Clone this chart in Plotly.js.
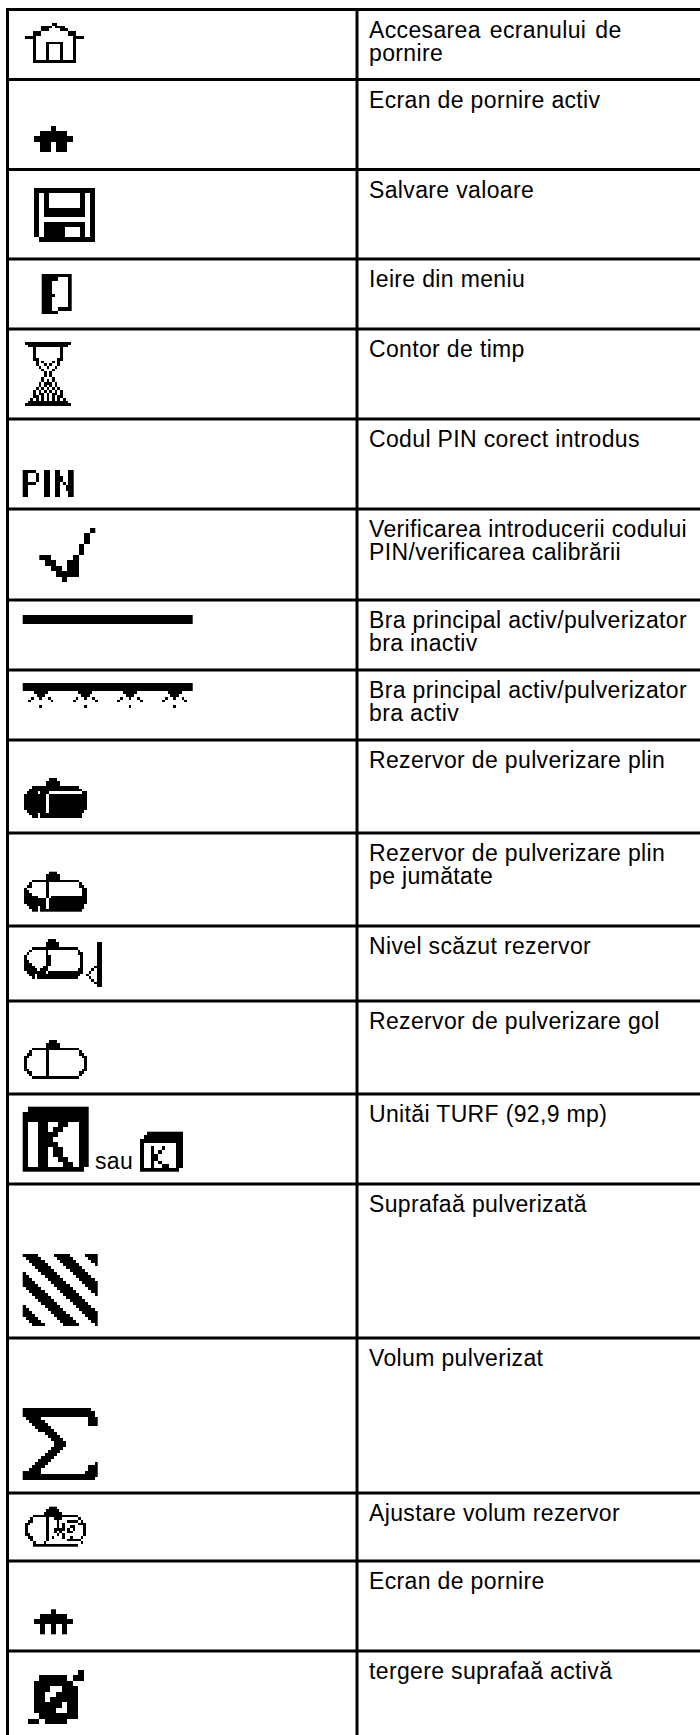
<!DOCTYPE html>
<html><head><meta charset="utf-8">
<script src="https://cdn.plot.ly/plotly-3.0.1.min.js"></script>
<style>html,body{margin:0;padding:0;background:#fff}#c{width:700px;height:1735px}#c text{letter-spacing:.35px}</style>
</head><body><div id="c"></div>
<script>
// ---- table data ----
const rowEdges=[9.5,79.5,169.5,259,329,419,509,600,670,740,833,926,1001,1094,1184,1338,1493,1561,1651];
const columnEdges=[7.5,357];
const descriptions=[
["Accesarea\u200A ecranului\u200A de","pornire"],["Ecran de pornire activ"],["Salvare valoare"],["Ieire din meniu"],["Contor de timp"],
["Codul PIN corect introdus"],["Verificarea introducerii codului","PIN/verificarea calibrării"],
["Bra principal activ/pulverizator","bra inactiv"],["Bra principal activ/pulverizator","bra activ"],
["Rezervor de pulverizare plin"],["Rezervor de pulverizare plin","pe jumătate"],["Nivel scăzut rezervor"],
["Rezervor de pulverizare gol"],["Unităi TURF (92,9 mp)"],["Suprafaă pulverizată"],["Volum pulverizat"],
["Ajustare volum rezervor"],["Ecran de pornire"],["tergere suprafaă activă"]];
// ---- icon bitmaps ----
const home=["..........##..........","......####.####.......","......###....###......","...###..........###...","...###..........###...","####..............####","...#..............#...","...#....######....#...","...#....#....#....#...","...#....#....#....#...","...#....#....#....#...","...#....#....#....#...","...#....#....#....#...","...#....#....#....#...","...################..."];
const homeActive=["...#...",".#####.","#######",".##.##.",".##.##."];
const save=["############","#.#......#.#","#.#......#.#","#.#......#.#","#.########.#","#.########.#","#..........#","#.########.#","#.####...#.#","#.####...#.#",".###########"];
const exitDoor=["#########","#####...#","###.....#","###.....#","###.....#","###.....#","####....#","###.....#","###.....#","###.....#","###..####","#####...."];
const hourglass=["#################",".###############.","...#.........#...","...#.........#...","...#.........#...","...#.........#...","...##.......##...","....#.#...#.#....","....#..#.#..#....",".....#..#..#.....","......#...#......",".......#.#.......",".......#.#.......","......#...#......","......#.#.#......",".....#.###.#.....",".....#.#.#.#.....","....#.#.#.#.#....","...#.#.#.#.#.#...","...#.##.#.##.#...","...##.#.#.#.##...","..#.#.#.#.#.#.#..",".###############.","#################"];
const pin=["#####...##..##...##","##...#..##..##...##","##...#..##..###..##","##...#..##..###..##","#####...##..##.#.##","##......##..##..###","##......##..##..###","##......##..##...##","##......##..##...##"];
const check=[".........#","........#.","........#.",".......#..",".......#..","##....#...",".##..##...","..##.##...","...####...","....#....."];
const boomOff=["#"];
const boomTile=["################","################","################","....#####.......",".....###........","...#..#..#......","..#.......#.....","................","......#........."];
const tankFull=[".........###...........","........#####..........","........#####..........","...#################...","..###################..",".####.###............##","########.##############","########.##############","########.##############","########.##############","########.##############","########.##############",".#######.#############.","..###.###############..","...##.###############.."];
const tankHalf=[".........###...........","........#####..........","........#####..........","...#################...","..#.....#...........#..",".##.....#...........##.","#.......#............##","##......#............##","###.....#............##","#####...#.#############","########.##############","########.##############",".#######.#############.","..###.##.#############.","...##.###############.."];
const tankLow=[".........###.................","........#####..............##","........#####..............##","...#################.......##","..#.....#...........#......##",".#......#...........##.....##","#.......##...........#.....##","#.......##...........#.....##","##......##...........#.....##","###.....##...........#.....##","####...##............#....###","#####.###...........##...#.##",".#######.#############..#..##","..##.################..#...##","...#.###############....#..##",".........................#.##","..........................###","...........................##"];
const tankEmpty=[".........###...........","........#####..........","........#####..........","...#################...","..#.....#...........#..",".##.....#...........##.","##......#............##","#.......#.............#","#.......#.............#","#.......#.............#","#.......#.............#","##......#............##",".##.....#...........##.","..#.....#...........#..","...#################..."];
const kLarge=[".############","#############","#############","#..##..##..##","#..##.##...##","#..####....##","#..###.....##","#..####....##","#..##.##...##","#..##.##...##","#..##..##..##","#..##...##.##","############."];
const kSmall=["..##########",".###########","############","#.........##","#..#..#...##","#..#.#....##","#..##.....##","#..##.....##","#..#.#....##","#..#..##..##","###########."];
const hatch=["#####.....#####.....####",".#####.....#####.....###","..#####.....#####.....##","...#####.....#####.....#","....#####.....#####.....",".....#####.....#####....","#.....#####.....#####...","##.....#####.....#####..","###.....#####.....#####.","####.....#####.....#####","#####.....#####.....####",".#####.....#####.....###","..#####.....#####.....##","...#####.....#####.....#","....#####.....#####.....",".....#####.....#####....","......#####.....#####...","#......#####.....#####..","##......#####.....#####.","###......#####.....#####","####......#####.....####",".####......#####.....###","..####......#####.....##","...####......#####.....#"];
const sigma=["######################..","#######################.","#######################.",".#####...............###","..#####..............###","...#####.............###","....#####...............",".....#####..............",".......####.............","........####............",".........####...........","..........####..........","..........####..........",".........####...........","........####............",".......####.............","......####..............",".....####...............","....####...............#","...####..............###","..####...............###","######..............####","########################","#######################."];
const tankAdjust=[".........###...........","........#####..........",".......#######.........","...#################...","..#.....#..###......#..",".##.....#...#...####.#.","##......#...#.#.....###","#.......#...#.#..##...#","#.......#..####.#.#...#","#.......#..#.#..##....#","##......#...#.#.......#",".##.....#.#...#..#...#.","..#.....#.......#####..","...#...#.............#.","...#################..."];
const homeSmall=["...#...",".#####.","#######",".#.#.#.",".#.#.#."];
const clearArea=[".........#","..#####.##",".#######..",".###..###.",".##..####.",".##.#####.",".#####.##.",".####..##.","..#######.","##.####..."];
// ---- placement of each bitmap: [bitmap, left, top, width, height] in page pixels ----
const boomRows=boomTile.map(r=>r.repeat(4).slice(0,61));
const placements=[
[home,25,23,59,40],[homeActive,34,126,39,26],[save,34,188,61,54],[exitDoor,41.7,274,30,40],[hourglass,25,342,45.7,64],
[pin,22.7,470,51.3,27],[check,39.3,528,55.7,54],[boomOff,22.7,615,169.6,8.5],[boomRows,22.7,683,169.6,25],
[tankFull,24,778,62.7,40],[tankHalf,24,871.7,62.7,40],[tankLow,24,939,78,48],[tankEmpty,24,1040,62.7,39],
[kLarge,22.7,1106.7,65.6,65],[kSmall,140,1131.7,42.7,40],[hatch,22.7,1254,74.6,72],[sigma,22.7,1408,74.6,72],
[tankAdjust,25,1506.7,61,40],[homeSmall,34,1609.3,38.7,25],[clearArea,28,1670,56,54]];
const textLeft=369,firstLine=32-9.5,lineStep=23,fontSize=23;

const traces=[];
placements.forEach(([bm,l,t,w,h])=>{
  const cols=Math.max(...bm.map(r=>r.length));
  const dx=w/cols,dy=h/bm.length;
  traces.push({type:'heatmap',x0:l+dx/2,dx:dx,y0:t+dy/2,dy:dy,
    z:bm.map(r=>Array.from(r.padEnd(cols,'.')).map(c=>c==='#'?1:null)),
    zmin:0,zmax:1,zsmooth:false,showscale:false,hoverinfo:'skip',xgap:0,ygap:0,
    colorscale:[[0,'#000'],[1,'#000']]});
});
const lx=[],ly=[];
rowEdges.forEach(y=>{lx.push(6,700,null);ly.push(y,y,null);});
columnEdges.forEach(x=>{lx.push(x,x,null);ly.push(rowEdges[0],1735,null);});
traces.push({type:'scatter',mode:'lines',x:lx,y:ly,line:{color:'#000',width:3},hoverinfo:'skip',showlegend:false});
const tx=[],ty=[],ts=[];
descriptions.forEach((lines,i)=>lines.forEach((s,j)=>{tx.push(textLeft);ty.push(rowEdges[i]+firstLine+j*lineStep);ts.push(s);}));
tx.push(95);ty.push(1163);ts.push('sau');
traces.push({type:'scatter',mode:'text',x:tx,y:ty,text:ts,textposition:'middle right',cliponaxis:false,
  textfont:{family:'"Liberation Sans",Arial,sans-serif',size:fontSize,color:'#000'},hoverinfo:'skip',showlegend:false});

Plotly.newPlot('c',traces,{width:700,height:1735,margin:{l:0,r:0,t:0,b:0},paper_bgcolor:'#fff',plot_bgcolor:'#fff',showlegend:false,
  xaxis:{range:[0,700],visible:false,fixedrange:true},
  yaxis:{range:[1735,0],visible:false,fixedrange:true}},{staticPlot:true,displayModeBar:false});
</script></body></html>
